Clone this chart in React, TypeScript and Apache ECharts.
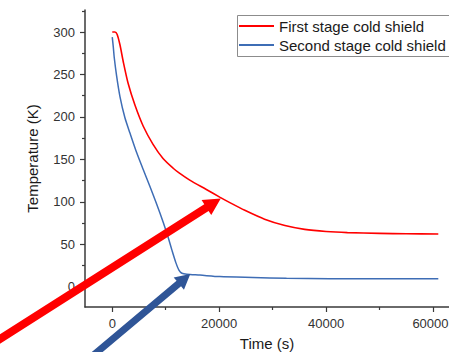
import React, { useEffect, useRef } from "react";
import * as echarts from "echarts";

const seriesNames = ["First stage cold shield", "Second stage cold shield"];

const firstStage: [number, number][] = [
  [0, 300], [500, 300], [900, 297.5], [1440, 285], [2060, 265], [2990, 239],
  [4240, 214], [5800, 189], [7600, 168], [9500, 151], [11400, 139.5],
  [12500, 134], [14500, 125.5], [17600, 114.5], [20100, 105.5], [22000, 99],
  [24800, 90], [28500, 79.5], [32300, 72], [36000, 67.5], [40000, 65],
  [44000, 63.7], [50000, 62.8], [55000, 62.3], [61000, 62],
];

const secondStage: [number, number][] = [
  [0, 294], [200, 282], [370, 270], [820, 248], [1440, 224], [2370, 199],
  [3310, 181], [4560, 158], [5790, 138], [7050, 118], [8300, 97.5],
  [9530, 76], [10410, 59], [11160, 43], [11910, 28], [12470, 19.5],
  [13030, 15.8], [13960, 14.6], [16400, 13.6], [20130, 11.8], [26300, 10.8],
  [32600, 9.9], [40700, 9.4], [50000, 9.2], [61000, 9.2],
];

const xLabelValues = [0, 20000, 40000, 60000];
const xMinorValues = [10000, 30000, 50000];
const yLabelValues = [0, 50, 100, 150, 200, 250, 300];
const yMinorValues = [25, 75, 125, 175, 225, 275, 325];

const redArrowTip: [number, number] = [20300, 104];
const blueArrowTip: [number, number] = [14600, 15];

const RED = "#FF0000";
const BLUE = "#3E6DB5";
const ARROW_BLUE = "#2F5597";
const AXIS = "#3a3a3a";
const FONT = "Liberation Sans";

function arrowPoints(tip: number[], angleDeg: number, len: number, headLen: number, headHalf: number, shaftHalf: number) {
  const a = (angleDeg * Math.PI) / 180;
  const dx = Math.cos(a);
  const dy = -Math.sin(a);
  const nx = -dy;
  const ny = dx;
  const bx = tip[0] - headLen * dx;
  const by = tip[1] - headLen * dy;
  const tx = tip[0] - len * dx;
  const ty = tip[1] - len * dy;
  return [
    [tip[0], tip[1]],
    [bx + headHalf * nx, by + headHalf * ny],
    [bx + shaftHalf * nx, by + shaftHalf * ny],
    [tx + shaftHalf * nx, ty + shaftHalf * ny],
    [tx - shaftHalf * nx, ty - shaftHalf * ny],
    [bx - shaftHalf * nx, by - shaftHalf * ny],
    [bx - headHalf * nx, by - headHalf * ny],
  ];
}

export default function App() {
  const ref = useRef<HTMLDivElement>(null);
  useEffect(() => {
    if (!ref.current) return;
    const chart = echarts.init(ref.current, null, { renderer: "svg" });
    const baseX = {
      type: "value" as const,
      min: -5100,
      max: 63000,
      position: "bottom" as const,
      splitLine: { show: false },
    };
    const baseY = {
      type: "value" as const,
      min: -24,
      max: 326,
      position: "left" as const,
      splitLine: { show: false },
    };
    const plain = (v: number) => String(v);
    const lastX = xLabelValues[xLabelValues.length - 1];
    const xFmt = (v: number) => (v === lastX ? `{e|${v}}` : String(v));
    chart.setOption({
      animation: false,
      backgroundColor: "#ffffff",
      textStyle: { fontFamily: FONT },
      grid: { left: 85, top: 10, width: 364, bottom: 45, containLabel: false, outerBoundsMode: "none" },
      legend: {
        orient: "vertical",
        left: 237,
        top: 15,
        padding: [3.5, 0, 4, 2],
        itemGap: 4,
        itemWidth: 35,
        itemHeight: 2,
        icon: "rect",
        borderWidth: 0,
        textStyle: { fontSize: 15, color: "#1a1a1a", fontFamily: FONT },
        data: seriesNames,
      },
      xAxis: [
        {
          ...baseX,
          name: "Time (s)",
          nameLocation: "middle",
          nameGap: 29,
          nameTextStyle: { fontSize: 15, color: "#1a1a1a", fontFamily: FONT },
          axisLine: { show: true, onZero: false, lineStyle: { color: AXIS, width: 1.5 } },
          axisTick: { show: true, length: 5, lineStyle: { color: AXIS, width: 1.2 }, customValues: xLabelValues },
          axisLabel: {
            show: true,
            fontSize: 13,
            color: "#333",
            margin: 10,
            formatter: xFmt,
            customValues: xLabelValues,
            rich: { e: { fontSize: 13, color: "#333", fontFamily: FONT, padding: [0, 5, 0, 0] } },
          },
        },
        {
          ...baseX,
          axisLine: { show: false, onZero: false },
          axisTick: { show: true, length: 3, lineStyle: { color: AXIS, width: 1.2 }, customValues: xMinorValues },
          axisLabel: { show: false },
        },
      ],
      yAxis: [
        {
          ...baseY,
          name: "Temperature (K)",
          nameLocation: "middle",
          nameGap: 45,
          nameTextStyle: { fontSize: 15, color: "#1a1a1a", fontFamily: FONT },
          axisLine: { show: true, onZero: false, lineStyle: { color: AXIS, width: 1.5 } },
          axisTick: { show: true, length: 5, lineStyle: { color: AXIS, width: 1.2 }, customValues: yLabelValues },
          axisLabel: { show: true, fontSize: 13, color: "#333", margin: 10, formatter: plain, customValues: yLabelValues },
        },
        {
          ...baseY,
          axisLine: { show: false, onZero: false },
          axisTick: { show: true, length: 3, lineStyle: { color: AXIS, width: 1.2 }, customValues: yMinorValues },
          axisLabel: { show: false },
        },
      ],
      series: [
        {
          name: seriesNames[0],
          type: "line",
          xAxisIndex: 0,
          yAxisIndex: 0,
          data: firstStage,
          showSymbol: false,
          symbol: "none",
          smooth: 0.25,
          color: RED,
          lineStyle: { color: RED, width: 1.6 },
        },
        {
          name: seriesNames[1],
          type: "line",
          xAxisIndex: 0,
          yAxisIndex: 0,
          data: secondStage,
          showSymbol: false,
          symbol: "none",
          smooth: 0.25,
          color: BLUE,
          lineStyle: { color: BLUE, width: 1.5 },
        },
      ],
    });

    const redTip = chart.convertToPixel({ xAxisIndex: 0, yAxisIndex: 0 }, redArrowTip) as number[];
    const blueTip = chart.convertToPixel({ xAxisIndex: 0, yAxisIndex: 0 }, blueArrowTip) as number[];
    chart.setOption({
      graphic: [
        {
          type: "rect",
          z: 50,
          shape: { x: 237.5, y: 15.5, width: 260, height: 41 },
          style: { fill: "none", stroke: "#8c8c8c", lineWidth: 1 },
        },
        {
          type: "polygon",
          z: 100,
          shape: { points: arrowPoints(redTip, 32.5, 280, 17, 9, 4) },
          style: { fill: RED },
        },
        {
          type: "polygon",
          z: 100,
          shape: { points: arrowPoints(blueTip, 40, 150, 15, 8, 3.5) },
          style: { fill: ARROW_BLUE },
        },
      ],
    });

    return () => chart.dispose();
  }, []);
  return (
    <div
      ref={ref}
      style={{ position: "fixed", left: 0, top: 0, width: 449, height: 352, background: "#fff" }}
    />
  );
}
